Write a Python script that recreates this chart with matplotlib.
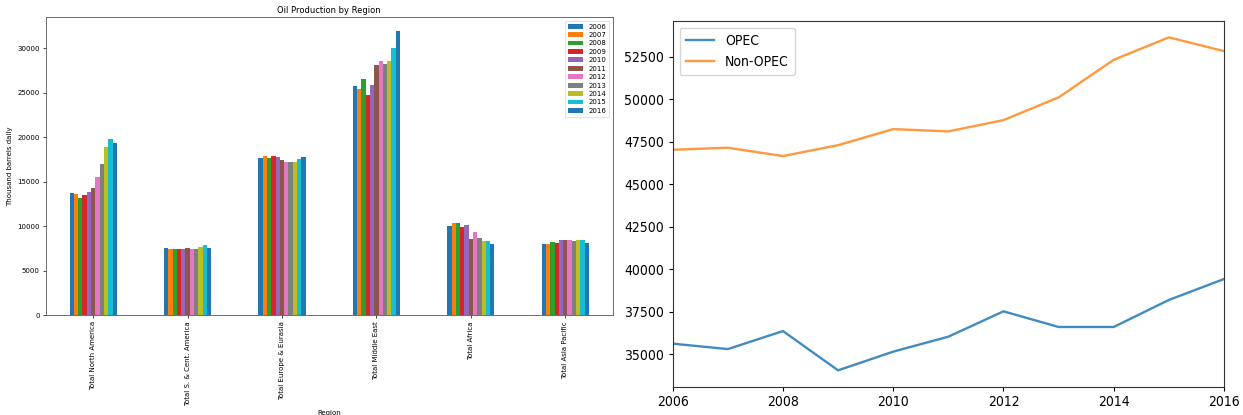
import matplotlib
matplotlib.use("Agg")
import matplotlib.pyplot as plt
from matplotlib import font_manager as fm
import numpy as np

regions = ["Total North America", "Total S. & Cent. America", "Total Europe & Eurasia",
           "Total Middle East", "Total Africa", "Total Asia Pacific"]
years = [2006, 2007, 2008, 2009, 2010, 2011, 2012, 2013, 2014, 2015, 2016]

north_america = [13750, 13670, 13220, 13480, 13860, 14340, 15580, 16970, 18910, 19810, 19360]
sc_america = [7490, 7380, 7420, 7420, 7420, 7530, 7420, 7420, 7640, 7830, 7530]
europe_eurasia = [17680, 17940, 17680, 17870, 17750, 17420, 17190, 17190, 17270, 17530, 17830]
middle_east = [25810, 25430, 26520, 24790, 25840, 28160, 28540, 28280, 28540, 30070, 31910]
africa = [10040, 10300, 10300, 9890, 10110, 8500, 9290, 8650, 8350, 8350, 7940]
asia_pacific = [7940, 7940, 8160, 8050, 8460, 8390, 8460, 8280, 8390, 8460, 8050]

opec = [35630, 35310, 36370, 34060, 35160, 36040, 37530, 36610, 36610, 38200, 39430]
non_opec = [47030, 47150, 46660, 47300, 48245, 48110, 48775, 50110, 52320, 53640, 52830]

region_values = np.array([north_america, sc_america, europe_eurasia,
                          middle_east, africa, asia_pacific])

colors = ['#1f77b4', '#ff7f0e', '#2ca02c', '#d62728', '#9467bd', '#8c564b',
          '#e377c2', '#7f7f7f', '#bcbd22', '#17becf', '#1f77b4']

# look for a condensed / narrow font for the right panel
narrow = None
for f in fm.fontManager.ttflist:
    nm = f.name.lower()
    fn = f.fname.lower()
    if ('narrow' in nm or 'condensed' in nm or 'condensed' in fn or 'narrow' in fn) \
            and 'bold' not in fn and 'italic' not in fn and 'oblique' not in fn:
        narrow = f.fname
        break

fig = plt.figure(figsize=(12.43, 4.15), dpi=100)
W, H = 1243, 415
ax1 = fig.add_axes([46 / W, (H - 315) / H, (612.5 - 46) / W, (315 - 17.3) / H])
ax2 = fig.add_axes([672.7 / W, (H - 387) / H, (1224 - 672.7) / W, (387 - 20.7) / H])

# Left: grouped bars (pandas-style)
n = len(years)
width = 0.5 / n
x = np.arange(len(regions))
for i, yr in enumerate(years):
    offs = (i - (n - 1) / 2) * width
    ax1.bar(x + offs, region_values[:, i], width=width, color=colors[i], label=str(yr))
ax1.set_xlim(-0.5, len(regions) - 0.5)
ax1.set_xticks(x)
ax1.set_xticklabels(regions, rotation=90, fontsize=5)
ax1.tick_params(axis='y', labelsize=5, length=2.5, width=0.5, pad=2)
ax1.tick_params(axis='x', length=2.5, width=0.5, pad=2)
ax1.set_title("Oil Production by Region", fontsize=6, pad=3)
ax1.set_ylabel("Thousand barrels daily", fontsize=5, labelpad=3)
ax1.set_xlabel("Region", fontsize=5, labelpad=3)
for s in ax1.spines.values():
    s.set_linewidth(0.6)
    s.set_color('#555555')
leg1 = ax1.legend(fontsize=5, loc='upper right', handlelength=2.2, labelspacing=0.35,
                  borderpad=0.4, framealpha=0.8, edgecolor='#cccccc', fancybox=False)
leg1.get_frame().set_linewidth(0.5)

# Right: lines
if narrow:
    fp = fm.FontProperties(fname=narrow, size=10)
else:
    fp = fm.FontProperties(family='DejaVu Sans', stretch='condensed', size=10)
ax2.plot(years, opec, color='#1f77b4', alpha=0.85, lw=1.7, label='OPEC')
ax2.plot(years, non_opec, color='#ff7f0e', alpha=0.8, lw=1.7, label='Non-OPEC')
ax2.set_xlim(years[0], years[-1])
ax2.set_xticks([2006, 2008, 2010, 2012, 2014, 2016])
ax2.set_yticks([35000, 37500, 40000, 42500, 45000, 47500, 50000, 52500])
for lab in ax2.get_xticklabels() + ax2.get_yticklabels():
    lab.set_fontproperties(fp)
ax2.tick_params(length=3, width=0.8, pad=3)
for s in ax2.spines.values():
    s.set_linewidth(0.8)
    s.set_color('#333333')
leg2 = ax2.legend(loc='upper left', prop=fp,
                  handlelength=2.0, borderpad=0.45, labelspacing=0.5)

fig.savefig("out.png", dpi=100)
